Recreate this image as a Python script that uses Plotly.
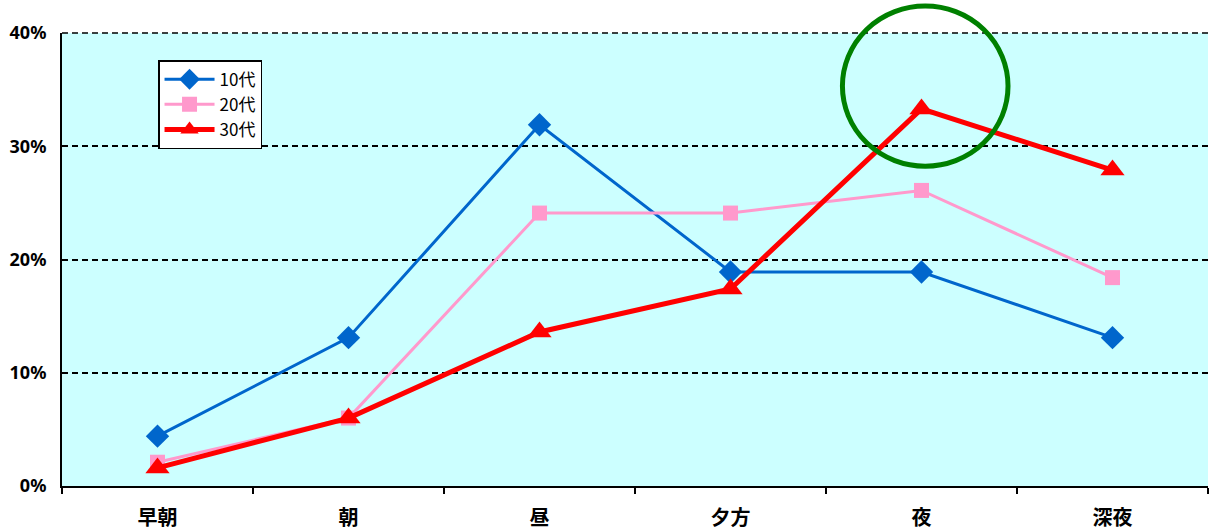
import plotly.graph_objects as go

categories = ["早朝", "朝", "昼", "夕方", "夜", "深夜"]
teens = [4.4, 13.1, 31.9, 18.9, 18.9, 13.1]
twenties = [2.1, 6.0, 24.1, 24.1, 26.1, 18.4]
thirties = [1.6, 6.0, 13.6, 17.4, 33.3, 27.9]
y_ticks = [0, 10, 20, 30, 40]
y_tick_labels = ["0%", "10%", "20%", "30%", "40%"]

fig = go.Figure()
fig.add_trace(go.Scatter(
    x=categories, y=teens, name="10代", mode="lines+markers",
    line=dict(color="#0066CC", width=3),
    marker=dict(symbol="diamond", size=18, color="#0066CC"),
    cliponaxis=False,
))
fig.add_trace(go.Scatter(
    x=categories, y=twenties, name="20代", mode="lines+markers",
    line=dict(color="#FF99CC", width=3),
    marker=dict(symbol="square", size=15, color="#FF99CC"),
    cliponaxis=False,
))
fig.add_trace(go.Scatter(
    x=categories, y=thirties, name="30代", mode="lines+markers",
    line=dict(color="#FF0000", width=5),
    marker=dict(symbol="triangle-up", size=21, color="#FF0000"),
    cliponaxis=False,
))

# dashed line along the top (40%) edge, like the other gridlines
fig.add_shape(
    type="line", xref="paper", yref="paper", x0=0, x1=1, y0=1, y1=1,
    line=dict(color="black", width=1.5, dash="6px,4px"), layer="below",
)

fig.add_shape(
    type="circle", xref="paper", yref="paper",
    x0=0.681, x1=0.8255, y0=0.706, y1=1.0596,
    line=dict(color="#008000", width=5),
)

fig.update_layout(
    width=1211, height=531,
    margin=dict(l=62, r=3, t=33, b=45),
    paper_bgcolor="white",
    plot_bgcolor="#CCFFFF",
    font=dict(family="Noto Sans CJK JP", color="black"),
    showlegend=True,
    legend=dict(
        x=0.0838, y=0.94, xanchor="left", yanchor="top",
        bgcolor="white", bordercolor="black", borderwidth=1.5,
        font=dict(size=17, family="Noto Sans CJK JP"),
        tracegroupgap=0, itemwidth=50,
    ),
    xaxis=dict(
        type="category", showgrid=False, showline=True, linecolor="black",
        linewidth=2, tickson="boundaries", ticks="outside", ticklen=6,
        tickcolor="black", tickwidth=1.5, ticklabelstandoff=13,
        tickfont=dict(size=20, family="Noto Sans CJK JP", weight="bold"),
        range=[-0.5, 5.5], zeroline=False, automargin=False,
    ),
    yaxis=dict(
        range=[0, 40], tickvals=y_ticks, ticktext=y_tick_labels,
        showgrid=True, gridcolor="black", griddash="6px,4px", gridwidth=1.5,
        showline=True, linecolor="black", linewidth=2, zeroline=False,
        ticks="", ticklabelstandoff=10, automargin=False,
        tickfont=dict(size=18, family="Noto Sans", weight="bold"),
    ),
)

fig.write_html("out.html")
